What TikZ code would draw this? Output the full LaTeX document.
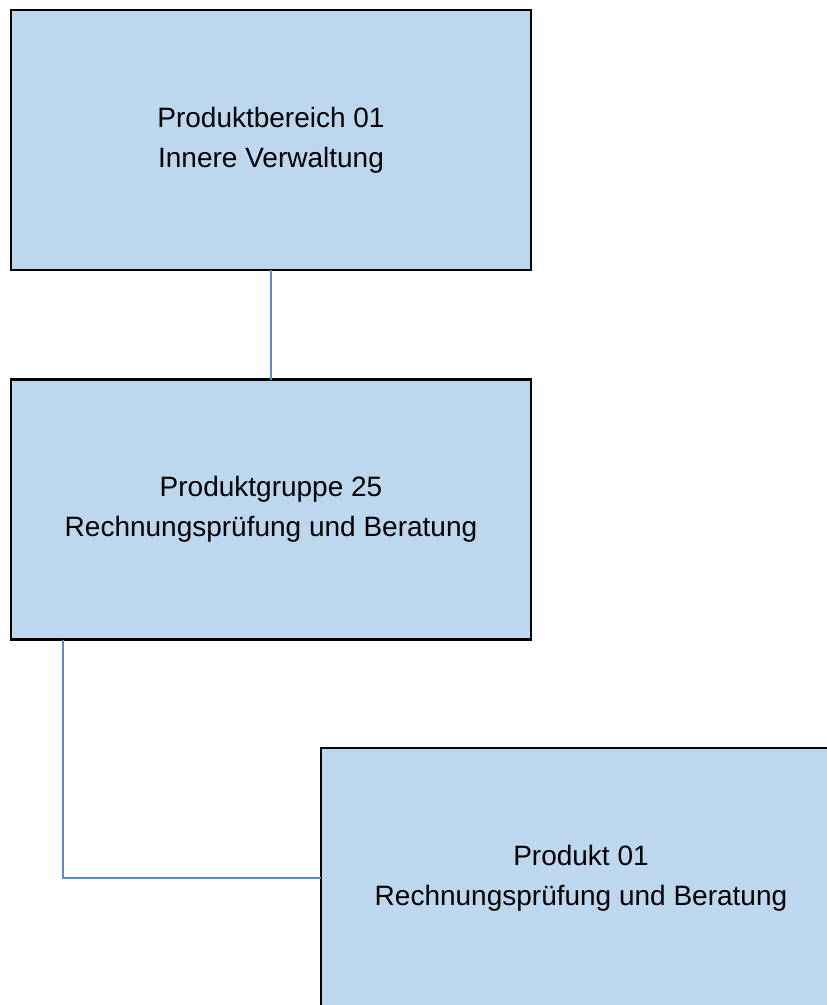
\documentclass[tikz,border=0pt]{standalone}
\usepackage{fontspec}
\setmainfont{Liberation Sans}
\usepackage{xcolor}
\usepackage{tikz}
\definecolor{boxblue}{HTML}{BDD7EE}
\definecolor{linkblue}{HTML}{5F8CC8}
\tikzset{
  unitbox/.style={draw=black, fill=boxblue, line width=2.2pt, minimum width=520pt, minimum height=260pt,
    inner sep=0pt, outer sep=0pt, align=center, font=\fontsize{28}{40}\selectfont},
  link/.style={linkblue, line width=2pt}
}
\begin{document}
\begin{tikzpicture}[x=1pt, y=-1pt]
  \clip (0,0) rectangle (827,1005);
  \node[unitbox] (bereich) at (271,140) {Produktbereich 01\\Innere Verwaltung};
  \node[unitbox] (gruppe) at (271,509.5) {Produktgruppe 25\\Rechnungsprüfung und Beratung};
  \node[unitbox] (produkt) at (581,878) {Produkt 01\\Rechnungsprüfung und Beratung};
  \draw[link] (bereich.south) -- (gruppe.north);
  \draw[link] (gruppe.south west) ++(52,0) |- (produkt.west);
\end{tikzpicture}
\end{document}
